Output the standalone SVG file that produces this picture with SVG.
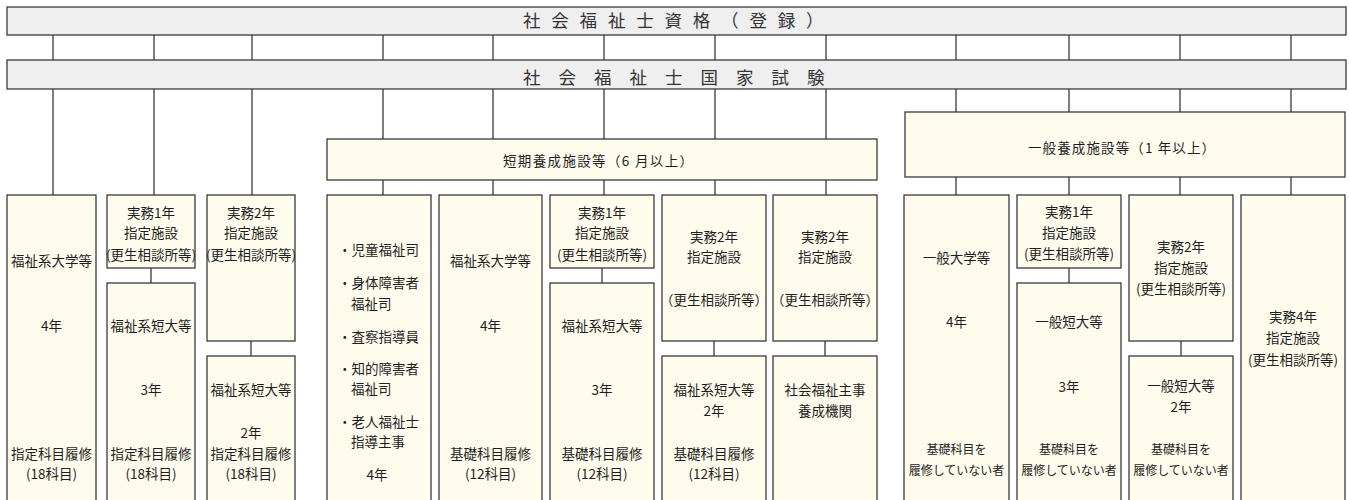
<svg xmlns="http://www.w3.org/2000/svg" width="1349" height="500" viewBox="0 0 1349 500">
<style>
.bar{fill:#efefef;stroke:#3a3a3a;stroke-width:1.3}
.box{fill:#fffcee;stroke:#3a3a3a;stroke-width:1.3}
.ln{stroke:#3a3a3a;stroke-width:1.3;fill:none}
text{font-family:"Noto Sans CJK JP","Noto Sans CJK SC",sans-serif;fill:#1e1e1e;font-weight:400;font-size:13.5px;text-anchor:middle}
.ttl{font-size:17.5px;text-anchor:start;fill:#333}
.s{font-size:12px}
.l{text-anchor:start}
</style>
<rect width="1349" height="500" fill="#fff"/>
<g id="connectors">
<path class="ln" d="M53 35V60M154 35V60M252 35V60M383 35V60M493 35V60M604 35V60M715 35V60M826 35V60M956 35V60M1069 35V60M1180 35V60M1291 35V60"/>
<path class="ln" d="M53 89V195M154 89V195M252 89V195M383 89V139M493 89V139M604 89V139M715 89V139M826 89V139"/>
<path class="ln" d="M383 180V195M493 180V195M604 180V195M715 180V195M826 180V195"/>
<path class="ln" d="M956 89V112M1069 89V112M1180 89V112M1291 89V112M956 177V195M1069 177V195M1180 177V195M1291 177V195"/>
<path class="ln" d="M151 268V283M251 341V356M602 268V283M714 341V356M825 341V356M1069 268V283M1181 341V356"/>
</g>
<g id="registration">
<rect class="bar" x="7" y="7" width="1339" height="28"/>
<text class="ttl" x="523" y="27" letter-spacing="10.8">社会福祉士資格（登録）</text>
</g>
<g id="exam">
<rect class="bar" x="7" y="60" width="1339" height="29"/>
<text class="ttl" x="523" y="84" letter-spacing="18">社会福祉士国家試験</text>
</g>
<g id="short-course">
<rect class="box" x="327" y="139" width="550" height="41"/>
<text class="l" x="503" y="166" font-size="14" textLength="190" lengthAdjust="spacing">短期養成施設等（6 月以上）</text>
</g>
<g id="general-course">
<rect class="box" x="905" y="112" width="440" height="65"/>
<text class="l" x="1028" y="153" font-size="14" textLength="187" lengthAdjust="spacing">一般養成施設等（1 年以上）</text>
</g>
<g id="col1">
<rect class="box" x="7" y="195" width="89" height="320"/>
<text x="51.5" y="266">福祉系大学等</text>
<text x="51.5" y="331">4年</text>
<text x="51.5" y="459">指定科目履修</text>
<text x="51.5" y="479">(18科目)</text>
</g>
<g id="col2-top">
<rect class="box" x="107" y="195" width="88" height="73"/>
<text x="151" y="218">実務1年</text>
<text x="151" y="238">指定施設</text>
<text x="151" y="260" font-size="13">(更生相談所等)</text>
</g>
<g id="col2-bottom">
<rect class="box" x="107" y="283" width="88" height="232"/>
<text x="151" y="331">福祉系短大等</text>
<text x="151" y="395">3年</text>
<text x="151" y="459">指定科目履修</text>
<text x="151" y="479">(18科目)</text>
</g>
<g id="col3-top">
<rect class="box" x="207" y="195" width="88" height="146"/>
<text x="251" y="218">実務2年</text>
<text x="251" y="238">指定施設</text>
<text x="251" y="260" font-size="13">(更生相談所等)</text>
</g>
<g id="col3-bottom">
<rect class="box" x="207" y="356" width="88" height="159"/>
<text x="251" y="395">福祉系短大等</text>
<text x="251" y="438">2年</text>
<text x="251" y="459">指定科目履修</text>
<text x="251" y="479">(18科目)</text>
</g>
<g id="col4">
<rect class="box" x="327" y="195" width="104" height="320"/>
<text class="l" x="338" y="255">・児童福祉司</text>
<text class="l" x="338" y="288">・身体障害者</text>
<text class="l" x="351" y="309">福祉司</text>
<text class="l" x="338" y="342">・査察指導員</text>
<text class="l" x="338" y="374">・知的障害者</text>
<text class="l" x="351" y="394">福祉司</text>
<text class="l" x="338" y="427">・老人福祉士</text>
<text class="l" x="351" y="447">指導主事</text>
<text x="377" y="480">4年</text>
</g>
<g id="col5">
<rect class="box" x="439" y="195" width="103" height="320"/>
<text x="490.5" y="266">福祉系大学等</text>
<text x="490.5" y="331">4年</text>
<text x="490.5" y="459">基礎科目履修</text>
<text x="490.5" y="479">(12科目)</text>
</g>
<g id="col6-top">
<rect class="box" x="550" y="195" width="104" height="73"/>
<text x="602" y="218">実務1年</text>
<text x="602" y="238">指定施設</text>
<text x="602" y="260" font-size="13">(更生相談所等)</text>
</g>
<g id="col6-bottom">
<rect class="box" x="550" y="283" width="104" height="232"/>
<text x="602" y="331">福祉系短大等</text>
<text x="602" y="395">3年</text>
<text x="602" y="459">基礎科目履修</text>
<text x="602" y="479">(12科目)</text>
</g>
<g id="col7-top">
<rect class="box" x="662" y="195" width="104" height="146"/>
<text x="714" y="242">実務2年</text>
<text x="714" y="262">指定施設</text>
<text x="714" y="305" font-size="13">（更生相談所等）</text>
</g>
<g id="col7-bottom">
<rect class="box" x="662" y="356" width="104" height="159"/>
<text x="714" y="395">福祉系短大等</text>
<text x="714" y="416">2年</text>
<text x="714" y="459">基礎科目履修</text>
<text x="714" y="479">(12科目)</text>
</g>
<g id="col8-top">
<rect class="box" x="773" y="195" width="104" height="146"/>
<text x="825" y="242">実務2年</text>
<text x="825" y="262">指定施設</text>
<text x="825" y="305" font-size="13">（更生相談所等）</text>
</g>
<g id="col8-bottom">
<rect class="box" x="773" y="356" width="104" height="159"/>
<text x="825" y="395">社会福祉主事</text>
<text x="825" y="416">養成機関</text>
</g>
<g id="col9">
<rect class="box" x="904" y="195" width="105" height="320"/>
<text x="956.5" y="263">一般大学等</text>
<text x="956.5" y="327">4年</text>
<text class="s" x="956.5" y="454">基礎科目を</text>
<text class="s" x="956.5" y="475">履修していない者</text>
</g>
<g id="col10-top">
<rect class="box" x="1017" y="195" width="104" height="73"/>
<text x="1069" y="217">実務1年</text>
<text x="1069" y="238">指定施設</text>
<text x="1069" y="259" font-size="13">(更生相談所等)</text>
</g>
<g id="col10-bottom">
<rect class="box" x="1017" y="283" width="104" height="232"/>
<text x="1069" y="327">一般短大等</text>
<text x="1069" y="392">3年</text>
<text class="s" x="1069" y="454">基礎科目を</text>
<text class="s" x="1069" y="475">履修していない者</text>
</g>
<g id="col11-top">
<rect class="box" x="1129" y="195" width="104" height="146"/>
<text x="1181" y="252">実務2年</text>
<text x="1181" y="273">指定施設</text>
<text x="1181" y="294" font-size="13">(更生相談所等)</text>
</g>
<g id="col11-bottom">
<rect class="box" x="1129" y="356" width="104" height="159"/>
<text x="1181" y="391">一般短大等</text>
<text x="1181" y="412">2年</text>
<text class="s" x="1181" y="454">基礎科目を</text>
<text class="s" x="1181" y="475">履修していない者</text>
</g>
<g id="col12">
<rect class="box" x="1241" y="195" width="104" height="320"/>
<text x="1293" y="322">実務4年</text>
<text x="1293" y="343">指定施設</text>
<text x="1293" y="365" font-size="13">(更生相談所等)</text>
</g>
</svg>
